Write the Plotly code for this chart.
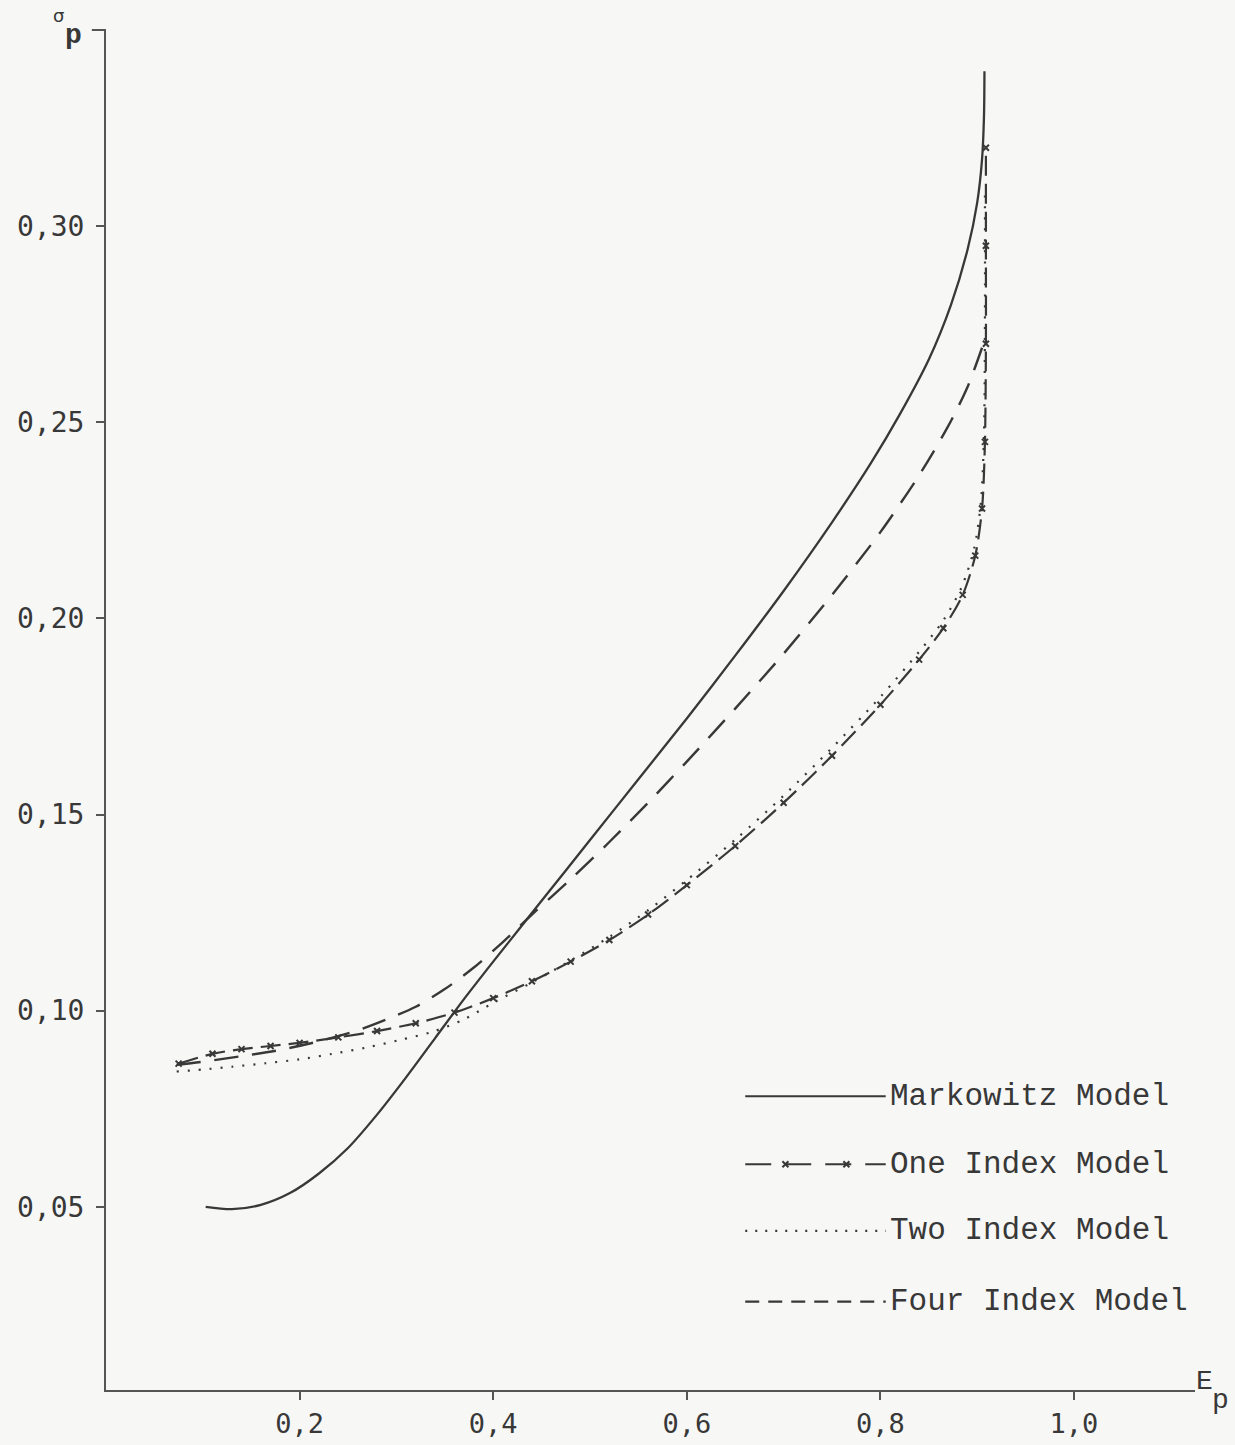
import plotly.graph_objects as go

# Efficient frontiers: expected portfolio return E_p against portfolio risk sigma_p
markowitz_e = [0.103, 0.13, 0.16, 0.19, 0.22, 0.25, 0.28, 0.31, 0.34, 0.37, 0.40,
               0.45, 0.50, 0.55, 0.60, 0.65, 0.70, 0.75, 0.79, 0.82, 0.85, 0.873,
               0.89, 0.90, 0.905, 0.907, 0.9075]
markowitz_s = [0.0500, 0.0494, 0.0505, 0.0535, 0.0585, 0.0650, 0.0735, 0.0830, 0.0930,
               0.1030, 0.1125, 0.1280, 0.1435, 0.1590, 0.1745, 0.1905, 0.2070, 0.2245,
               0.2395, 0.2520, 0.2660, 0.2800, 0.2940, 0.3060, 0.3170, 0.3280, 0.3395]

one_index_e = [0.075, 0.11, 0.14, 0.17, 0.20, 0.24, 0.28, 0.32, 0.36, 0.40, 0.44,
               0.48, 0.52, 0.56, 0.60, 0.65, 0.70, 0.75, 0.80, 0.84, 0.865, 0.885,
               0.898, 0.905, 0.908, 0.909, 0.909, 0.909]
one_index_s = [0.0865, 0.0890, 0.0902, 0.0910, 0.0918, 0.0932, 0.0948, 0.0968, 0.0995,
               0.1032, 0.1075, 0.1125, 0.1180, 0.1245, 0.1320, 0.1420, 0.1530, 0.1650,
               0.1780, 0.1895, 0.1975, 0.2060, 0.2160, 0.2280, 0.2450, 0.2700, 0.2950,
               0.3200]

two_index_e = [0.073, 0.10, 0.13, 0.165, 0.20, 0.234, 0.269, 0.303, 0.337, 0.37, 0.40,
               0.44, 0.48, 0.52, 0.56, 0.60, 0.65, 0.70, 0.75, 0.80, 0.84, 0.865,
               0.884, 0.897, 0.904, 0.907, 0.908, 0.908]
two_index_s = [0.0845, 0.0850, 0.0857, 0.0866, 0.0876, 0.0890, 0.0906, 0.0925, 0.0946,
               0.0978, 0.1020, 0.1072, 0.1128, 0.1188, 0.1256, 0.1333, 0.1436, 0.1548,
               0.1670, 0.1800, 0.1915, 0.1995, 0.2080, 0.2180, 0.2300, 0.2470, 0.2750,
               0.3100]

four_index_e = [0.073, 0.10, 0.14, 0.18, 0.22, 0.26, 0.29, 0.32, 0.35, 0.38, 0.41,
                0.44, 0.48, 0.52, 0.56, 0.60, 0.65, 0.70, 0.75, 0.80, 0.84, 0.87,
                0.89, 0.905]
four_index_s = [0.0862, 0.0870, 0.0884, 0.0900, 0.0922, 0.0950, 0.0978, 0.1010, 0.1055,
                0.1110, 0.1175, 0.1245, 0.1335, 0.1430, 0.1530, 0.1635, 0.1770, 0.1910,
                0.2060, 0.2220, 0.2365, 0.2490, 0.2590, 0.2690]

x_ticks = [0.2, 0.4, 0.6, 0.8, 1.0]
x_tick_text = ["0,2", "0,4", "0,6", "0,8", "1,0"]
y_ticks = [0.05, 0.10, 0.15, 0.20, 0.25, 0.30]
y_tick_text = ["0,05", "0,10", "0,15", "0,20", "0,25", "0,30"]

legend_names = ["Markowitz Model", "One Index Model", "Two Index Model", "Four Index Model"]

INK = "#383838"
AXIS = "#555555"
BG = "#f7f7f6"

fig = go.Figure()

fig.add_trace(go.Scatter(
    x=markowitz_e, y=markowitz_s, mode="lines",
    line=dict(color=INK, width=2.3, shape="spline", smoothing=0.8),
    showlegend=False, hoverinfo="skip"))

fig.add_trace(go.Scatter(
    x=four_index_e, y=four_index_s, mode="lines",
    line=dict(color=INK, width=2.4, dash="24px,14px", shape="spline", smoothing=0.8),
    showlegend=False, hoverinfo="skip"))

fig.add_trace(go.Scatter(
    x=two_index_e, y=two_index_s, mode="lines",
    line=dict(color=INK, width=2.2, dash="2px,9px", shape="spline", smoothing=0.8),
    showlegend=False, hoverinfo="skip"))

fig.add_trace(go.Scatter(
    x=one_index_e, y=one_index_s, mode="lines+markers",
    line=dict(color=INK, width=2.2, dash="20px,8px", shape="spline", smoothing=0.8),
    marker=dict(symbol="x-thin", size=6, line=dict(color=INK, width=2)),
    showlegend=False, hoverinfo="skip"))

# Typewriter-style key: line samples on an overlay axis spanning the plot area
LX0, LX1 = 0.587, 0.716          # sample start / end (plot-area fraction)
legend_y = [0.216, 0.166, 0.117, 0.065]

fig.add_trace(go.Scatter(
    x=[LX0, LX1], y=[legend_y[0]] * 2, mode="lines",
    line=dict(color=INK, width=2.2), xaxis="x2", yaxis="y2",
    showlegend=False, hoverinfo="skip"))
fig.add_trace(go.Scatter(
    x=[LX0, LX1], y=[legend_y[1]] * 2, mode="lines",
    line=dict(color=INK, width=2.2, dash="26px,14px"), xaxis="x2", yaxis="y2",
    showlegend=False, hoverinfo="skip"))
fig.add_trace(go.Scatter(
    x=[LX0 + (LX1 - LX0) * f for f in (0.286, 0.72)], y=[legend_y[1]] * 2,
    mode="markers", marker=dict(symbol="x-thin", size=6, line=dict(color=INK, width=2)),
    xaxis="x2", yaxis="y2", showlegend=False, hoverinfo="skip"))
fig.add_trace(go.Scatter(
    x=[LX0, LX1], y=[legend_y[2]] * 2, mode="lines",
    line=dict(color=INK, width=2.2, dash="2px,8px"), xaxis="x2", yaxis="y2",
    showlegend=False, hoverinfo="skip"))
fig.add_trace(go.Scatter(
    x=[LX0, LX1], y=[legend_y[3]] * 2, mode="lines",
    line=dict(color=INK, width=2.2, dash="14px,9px"), xaxis="x2", yaxis="y2",
    showlegend=False, hoverinfo="skip"))

for name, ly in zip(legend_names, legend_y):
    fig.add_annotation(
        x=LX1, y=ly, xref="x2", yref="y2", text=name, showarrow=False,
        xanchor="left", yanchor="middle", xshift=2,
        font=dict(family="Liberation Mono", size=31, color=INK))

# Axis labels: E with subscript p at the end of the return axis
fig.add_annotation(x=1.0088, y=0.006, xref="paper", yref="paper", text="E",
                   showarrow=False, xanchor="center", yanchor="middle",
                   font=dict(family="Liberation Mono", size=28, color=INK))
fig.add_annotation(x=1.0230, y=-0.008, xref="paper", yref="paper", text="p",
                   showarrow=False, xanchor="center", yanchor="middle",
                   font=dict(family="Liberation Mono", size=28, color=INK))
# sigma with subscript p above the risk axis
fig.add_annotation(x=-0.044, y=1.011, xref="paper", yref="paper", text="σ",
                   showarrow=False, xanchor="center", yanchor="middle",
                   font=dict(family="DejaVu Sans", size=18, color=INK))
fig.add_annotation(x=-0.030, y=0.996, xref="paper", yref="paper", text="<b>p</b>",
                   showarrow=False, xanchor="center", yanchor="middle",
                   font=dict(family="Liberation Mono", size=28, color=INK))

# Small bracket at the top of the sigma axis
fig.add_shape(type="line", xref="paper", yref="paper", x0=-0.013, x1=0.0, y0=1.0, y1=1.0,
              line=dict(color=AXIS, width=2))

fig.update_layout(
    width=1235, height=1445,
    margin=dict(l=106, r=40, t=30, b=55),
    paper_bgcolor=BG, plot_bgcolor=BG,
    xaxis=dict(range=[0, 1.125], showgrid=False, zeroline=False, automargin=False,
               showline=True, linecolor=AXIS, linewidth=2,
               ticks="outside", ticklen=8, tickwidth=2, tickcolor=AXIS,
               tickvals=x_ticks, ticktext=x_tick_text, ticklabelstandoff=1,
               tickfont=dict(family="DejaVu Sans Mono", size=27, color=INK)),
    yaxis=dict(range=[0.0033, 0.35], showgrid=False, zeroline=False, automargin=False,
               showline=True, linecolor=AXIS, linewidth=2,
               ticks="outside", ticklen=8, tickwidth=2, tickcolor=AXIS,
               tickvals=y_ticks, ticktext=y_tick_text, ticklabelstandoff=6,
               tickfont=dict(family="DejaVu Sans Mono", size=28, color=INK)),
    xaxis2=dict(range=[0, 1], overlaying="x", visible=False),
    yaxis2=dict(range=[0, 1], overlaying="y", visible=False),
)

fig.write_html("out.html")
